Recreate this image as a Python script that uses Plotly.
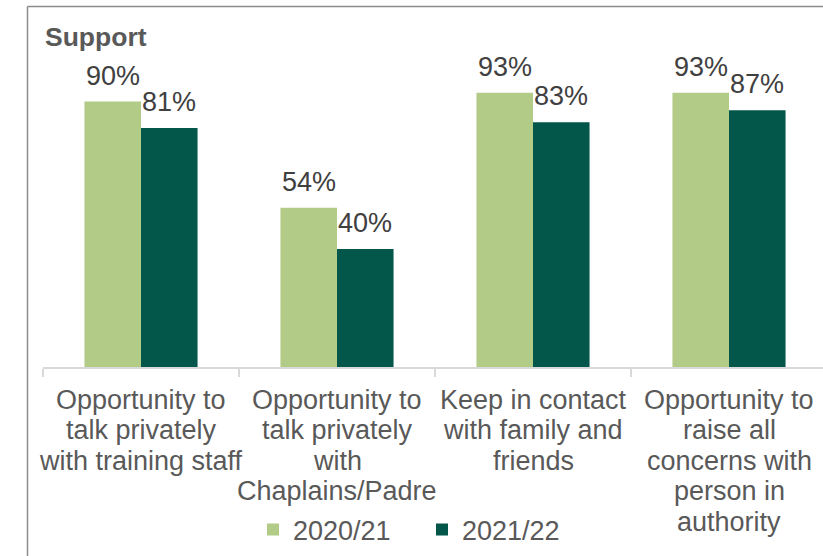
import plotly.graph_objects as go

# Survey results: share of respondents agreeing, by year
categories = [
    "Opportunity to<br>talk privately<br>with training staff",
    "Opportunity to<br>talk privately<br>with<br>Chaplains/Padre",
    "Keep in contact<br>with family and<br>friends",
    "Opportunity to<br>raise all<br>concerns with<br>person in<br>authority",
]
series_names = ["2020/21", "2021/22"]
values_2020 = [90, 54, 93, 93]
values_2021 = [81, 40, 83, 87]
colors = ["#b2cb87", "#02574a"]

W, H = 823, 556
M_L, M_R, M_T, M_B = 43, 0, 72, 189
FONT = "Arial, Liberation Sans, sans-serif"
FS = 27
BARGAP = 0.423
CAT_PX = 196.0  # width of one category slot
plot_w = W - M_L - M_R
plot_h = H - M_T - M_B

x_idx = list(range(len(categories)))

fig = go.Figure()
for name, vals, col in zip(series_names, [values_2020, values_2021], colors):
    fig.add_trace(go.Bar(
        x=x_idx, y=vals, name=name, marker=dict(color=col, line=dict(width=0)),
        hoverinfo="skip",
    ))

# value labels above each bar
half = (1 - BARGAP) / 4
annotations = []
for k, vals in enumerate([values_2020, values_2021]):
    off = -half if k == 0 else half
    for i, v in enumerate(vals):
        annotations.append(dict(
            x=i + off, y=v, xref="x", yref="y", text=f"{v}%", showarrow=False,
            yanchor="middle", yshift=26,
            font=dict(family=FONT, size=FS, color="#404040"),
        ))

# category labels, one annotation per line
LINE_PX = 30.4
for i, lab in enumerate(categories):
    for j, line in enumerate(lab.split("<br>")):
        ypx = 400 + j * LINE_PX
        annotations.append(dict(
            x=i, y=(H - M_B - ypx) / plot_h, xref="x", yref="paper", text=line,
            showarrow=False, yanchor="middle", xanchor="center",
            font=dict(family=FONT, size=FS, color="#595959"),
        ))

# chart frame: only its left and top edges fall inside the page
def px_x(p):
    return (p - M_L) / plot_w


def px_y(p):
    return (H - M_B - p) / plot_h


frame_style = dict(color="#8c8c8c", width=1.5)
shapes = [
    dict(type="line", xref="paper", yref="paper",
         x0=px_x(27.5), x1=px_x(27.5), y0=px_y(6.5), y1=px_y(H + 20),
         line=frame_style, layer="above"),
    dict(type="line", xref="paper", yref="paper",
         x0=px_x(27.5), x1=px_x(W + 20), y0=px_y(6.5), y1=px_y(6.5),
         line=frame_style, layer="above"),
]

fig.update_layout(
    width=W, height=H,
    margin=dict(l=M_L, r=M_R, t=M_T, b=M_B, pad=0),
    paper_bgcolor="white", plot_bgcolor="white",
    barmode="group", bargap=BARGAP, bargroupgap=0,
    font=dict(family=FONT, size=FS, color="#595959"),
    title=dict(
        text="<b>Support</b>", x=45 / W, xanchor="left", xref="container",
        y=1 - 36.5 / H, yanchor="middle", yref="container",
        font=dict(family=FONT, size=26.5, color="#595959"),
    ),
    xaxis=dict(
        type="linear", range=[-0.5, -0.5 + plot_w / CAT_PX],
        tickmode="array", tickvals=[-0.5, 0.5, 1.5, 2.5, 3.5], ticktext=[""] * 5,
        ticks="outside", ticklen=8, tickcolor="#d9d9d9", tickwidth=1.5,
        showline=True, linecolor="#d9d9d9", linewidth=1.5,
        showgrid=False, zeroline=False, fixedrange=True,
    ),
    yaxis=dict(range=[0, 100], visible=False, showgrid=False, zeroline=False),
    legend=dict(
        orientation="h", x=px_x(253), xanchor="left",
        y=px_y(530), yanchor="middle",
        font=dict(family=FONT, size=FS, color="#595959"),
        itemwidth=30, tracegroupgap=0, bgcolor="rgba(0,0,0,0)",
        entrywidth=124, entrywidthmode="pixels",
    ),
    annotations=annotations,
    shapes=shapes,
    showlegend=True,
)

fig.write_html(
    "out.html",
    config={"displayModeBar": False},
    post_script="document.documentElement.style.overflow='hidden';"
                "document.body.style.overflow='hidden';",
)
